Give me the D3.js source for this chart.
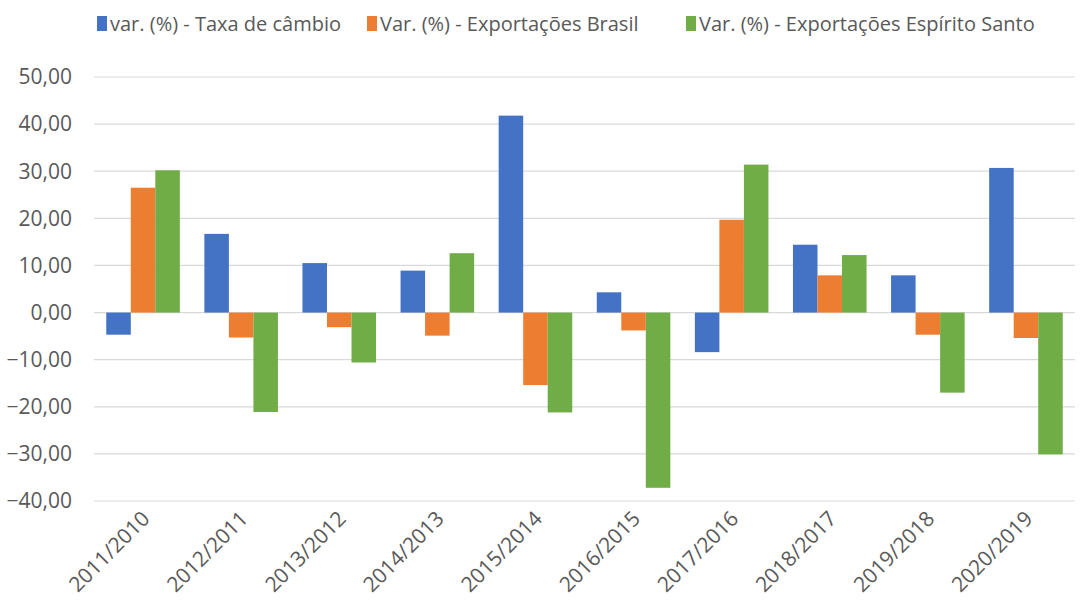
<!DOCTYPE html>
<html>
<head>
<meta charset="utf-8">
<script src="https://cdn.jsdelivr.net/npm/d3@7"></script>
<style>
  body { margin: 0; background: #fff; }
  text { font-family: "Open Sans", "Liberation Sans", sans-serif; fill: #595959; }
</style>
</head>
<body>
<script>
const categories = ["2011/2010", "2012/2011", "2013/2012", "2014/2013", "2015/2014",
                    "2016/2015", "2017/2016", "2018/2017", "2019/2018", "2020/2019"];
const seriesNames = ["var. (%) - Taxa de câmbio", "Var. (%) - Exportações Brasil", "Var. (%) - Exportações Espírito Santo"];
const taxaCambio = [-4.7, 16.7, 10.5, 8.9, 41.8, 4.3, -8.4, 14.4, 7.9, 30.7];
const exportBrasil = [26.5, -5.3, -3.1, -4.9, -15.4, -3.8, 19.7, 7.9, -4.7, -5.4];
const exportES = [30.2, -21.1, -10.6, 12.6, -21.2, -37.2, 31.4, 12.2, -17.0, -30.1];
const yTicks = [50, 40, 30, 20, 10, 0, -10, -20, -30, -40];

const colors = ["#4472C4", "#ED7D31", "#70AD47"];
const allSeries = [taxaCambio, exportBrasil, exportES];

const W = 1084, H = 606;
const margin = {left: 94, right: 9, top: 77, bottom: 105};

const svg = d3.select("body").append("svg").attr("width", W).attr("height", H);

const x = d3.scaleBand().domain(categories).range([margin.left, W - margin.right]);
const y = d3.scaleLinear().domain([-40, 50]).range([H - margin.bottom, margin.top]);

// gridlines
svg.append("g").selectAll("line").data(yTicks).enter().append("line")
    .attr("x1", margin.left).attr("x2", W - margin.right)
    .attr("y1", d => y(d)).attr("y2", d => y(d))
    .attr("stroke", "#d9d9d9").attr("stroke-width", 1.2);

// y labels
svg.append("g").selectAll("text").data(yTicks).enter().append("text")
    .attr("x", 72).attr("y", d => y(d)).attr("dy", "0.35em")
    .attr("text-anchor", "end").style("font-size", "21px")
    .text(d => d3.format(".2f")(d).replace(".", ","));

// bars
const inner = d3.scaleBand().domain([0, 1, 2])
    .range([0, x.bandwidth() * 0.75]);
const offset = x.bandwidth() * 0.125;

allSeries.forEach(function (vals, i) {
    svg.append("g").selectAll("rect").data(vals).enter().append("rect")
        .attr("x", (d, j) => x(categories[j]) + offset + inner(i))
        .attr("width", inner.bandwidth())
        .attr("y", d => y(Math.max(0, d)))
        .attr("height", d => Math.abs(y(d) - y(0)))
        .attr("fill", colors[i]);
});

// x labels
svg.append("g").selectAll("text").data(categories).enter().append("text")
    .attr("transform", d => "translate(" + (x(d) + x.bandwidth() / 2 + 8) + "," + 520 + ") rotate(-45)")
    .attr("text-anchor", "end").style("font-size", "21px")
    .text(d => d);

// legend
const legendX = [97, 367, 686];
const lg = svg.append("g");
seriesNames.forEach(function (name, i) {
    lg.append("rect").attr("x", legendX[i]).attr("y", 16).attr("width", 10).attr("height", 15)
        .attr("fill", colors[i]);
    lg.append("text").attr("x", legendX[i] + 13).attr("y", 24).attr("dy", "0.35em")
        .style("font-size", "20px").text(name);
});
</script>
</body>
</html>
